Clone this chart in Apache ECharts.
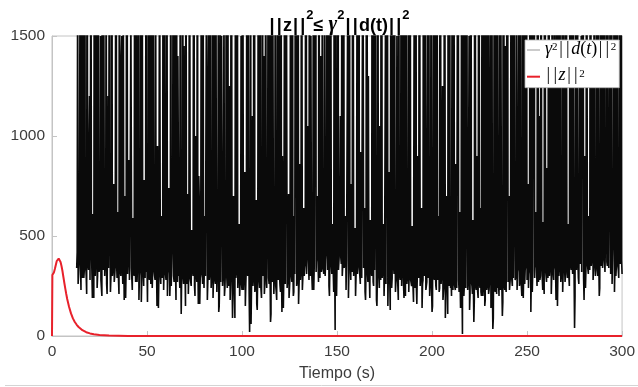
<!DOCTYPE html>
<html>
<head>
<meta charset="utf-8">
<script src="https://cdn.jsdelivr.net/npm/echarts@6/dist/echarts.min.js"></script>
<style>html,body{margin:0;padding:0;background:#fff}#c{width:638px;height:387px}</style>
</head>
<body>
<div id="c"></div>
<script>
// x ticks / y ticks
const xTicks = [0, 50, 100, 150, 200, 250, 300];
const yTicks = [0, 500, 1000, 1500];

// ||z||^2 (red)
const redTimes  = [0, 0.2, 1, 1.5, 2, 2.5, 3, 3.5, 4, 4.5, 5, 5.5, 6, 6.5, 7, 7.5, 8, 9, 10, 11, 12, 13, 14, 15, 16, 18, 20, 22, 25, 30, 40, 300];
const redValues = [0, 305, 318, 335, 355, 375, 385, 387, 382, 370, 350, 325, 295, 265, 237, 210, 185, 145, 113, 88, 70, 56, 45, 36, 29, 19, 13, 9, 5, 2, 0.5, 0];

// gamma^2 ||d(t)||^2 (black): samples at t = 13 + 0.5*i  (blackValuesA)
// and at t = 13.25 + 0.5*i (blackValuesB)
const blackStart = 13;
const blackStep = 0.5;
const blackValuesA = [
340,1900,310,720,360,2800,290,1600,330,540,300,3100,350,980,280,2200,320,610,190,1750,
360,2500,300,830,340,1500,270,3600,330,680,310,2100,210,1200,350,560,290,2900,330,760,
300,1850,360,620,280,3300,320,1400,350,2000,180,700,330,2600,300,880,340,1650,290,590,
320,2400,270,1100,350,3000,300,650,170,1900,330,780,290,2700,340,520,310,1550,260,3800,
330,690,300,2300,350,950,140,1700,320,600,290,3200,340,1300,280,2050,310,740,200,2650,
350,580,300,1800,330,3500,270,860,320,2200,110,640,300,1450,340,2900,260,710,310,1950,
280,530,330,2500,250,1000,300,3100,160,680,290,1700,320,2300,240,600,300,1350,270,2800,
310,760,230,2100,290,3400,260,570,320,1600,150,2600,280,900,300,1900,240,640,290,3000,
250,1250,300,2200,90,700,270,1750,320,2900,240,560,280,1500,230,3300,290,820,260,2000,
300,620,20,2400,250,1100,290,3600,240,680,130,1850,280,2700,230,590,300,1400,260,2100,
240,780,290,3000,70,1650,270,560,300,2300,220,950,280,1800,250,3200,120,640,300,2500,
260,1300,290,710,240,2000,310,3400,200,600,300,1550,270,2800,150,860,320,1900,290,640,
340,2600,310,1050,360,3100,300,580,230,1750,350,2200,320,700,370,3500,290,1400,340,620,
310,2300,380,880,330,1650,200,2900,360,560,320,2000,30,1200,370,3300,340,690,390,1800,
350,2500,330,600,380,1450,190,3000,360,760,320,2150,350,540,300,1700,370,3600,330,920,
290,2000,340,640,180,2700,320,1300,300,580,350,3200,270,1850,330,700,150,2400,310,1050,
280,3000,330,560,300,1600,260,2300,320,820,130,1950,290,3400,310,620,270,1500,330,2600,
300,740,250,2100,310,3100,200,680,290,1800,320,2500,270,550,300,1350,240,2900,160,900,
290,2200,310,640,260,3300,300,1150,230,1700,290,580,270,2600,120,780,300,2000,250,3500,
280,600,240,1900,300,1250,220,2800,90,700,270,2300,250,560,290,1650,230,3100,260,860,
240,2400,280,620,140,1800,10,2000,260,3000,230,690,270,1500,210,2500,250,580,70,3300,
250,900,220,2100,260,640,200,1600,240,2800,180,720,250,3500,230,1300,140,2200,35,600,
240,2700,210,1050,260,1900,230,560,100,3100,250,1450,220,2400,270,700,240,1700,280,3200,
300,640,270,2200,320,1200,250,2900,290,580,190,1800,330,3400,280,760,310,2000,120,1550,
330,2600,290,620,340,3000,270,1100,300,1900,350,570,210,2500,320,840,290,3600,340,1400,
310,600,280,2300,330,1650,150,2800,350,680,300,2100,320,1250,270,3100,340,560,300,1800,
350,2700,310,740,40,1950,330,3300,290,620,360,1500,320,2400,180,900,340,2000,370,600,
330,3000,380,1300,340,2200,300,580,360,2700,200,760,350,1750,390,3400,320,640,370,2300,
340,1100,310,2900,380,620,220,1900,350,3200,330,680,360,2500,310
];
const blackValuesB = [
420,260,380,1900,230,310,470,290,2600,350,210,400,330,1200,280,440,190,360,2200,300,
390,240,3100,320,450,280,200,370,1700,300,410,260,520,340,2400,220,380,300,650,270,
350,2800,290,430,210,370,300,1500,260,400,340,190,2300,310,460,280,350,900,230,380,
300,420,1800,270,360,180,330,2700,290,410,250,350,600,320,170,3400,280,390,310,240,
2000,330,280,440,150,370,300,1600,260,350,410,230,2900,310,380,200,340,700,290,250,
360,2500,270,420,180,330,1400,300,240,390,310,3200,260,370,150,320,440,210,1900,290,
250,380,300,2200,200,340,270,410,800,160,310,2600,260,360,230,300,1700,180,350,280,
3000,240,330,190,390,280,2100,220,350,120,300,270,1500,250,380,200,330,2800,240,300,
260,180,2400,310,220,350,90,290,1800,240,370,200,320,260,3300,230,280,150,340,600,
2000,210,320,60,290,250,2700,220,360,160,300,1300,240,280,190,3100,330,210,270,300,
230,2200,260,320,110,290,1600,210,340,250,180,3000,270,300,220,360,900,140,310,260,
2500,240,330,190,300,1700,270,350,220,310,3300,250,290,160,340,280,2100,230,380,300,
360,2700,320,410,280,370,1500,300,390,230,350,3200,330,400,270,360,700,320,2000,340,
380,300,420,2400,340,250,370,1800,310,400,220,350,3000,200,390,330,420,1100,360,300,
2600,340,390,230,370,1900,320,400,280,360,3300,300,350,200,380,310,2200,340,260,390,
300,1700,350,220,320,2900,270,340,190,360,300,1400,250,330,2300,180,310,350,240,620,
3100,290,340,200,310,260,2000,150,330,280,1600,240,300,350,2700,220,290,320,180,340,
280,2400,240,320,190,300,3300,260,330,220,1800,280,250,310,170,2100,290,240,320,700,
2600,250,300,140,280,330,1900,230,270,310,3000,200,290,240,150,2200,280,320,230,1500,
270,220,3400,260,300,180,250,2000,230,290,110,280,2700,240,200,310,1600,260,230,300,
250,2900,220,280,160,260,1500,200,290,240,3100,230,260,130,2300,270,210,250,180,2000,
230,270,190,2600,240,220,1700,200,260,150,3200,230,250,210,280,1900,190,240,90,2400,
220,260,3000,240,200,280,1600,250,170,2300,230,270,210,2800,260,230,300,1400,250,290,
2700,280,310,230,340,1900,270,300,200,3300,320,260,350,2200,290,240,330,1500,310,220,
340,3000,300,360,250,2400,320,280,1700,350,230,310,3400,330,270,360,2000,300,340,210,
2800,320,290,350,180,1600,330,300,3100,270,360,220,2300,340,310,1900,290,350,250,3500,
330,360,1800,300,200,2600,340,380,260,1400,350,320,3000,290,370,240,2100,360,310,380,
2500,350,390,280,1700,370,330,3200,300,380,240,2000,360,340,1500,390,310,2800,350,400,
330,2300,370,260,380,1800,340,300,3100,360,290,2000,350,380
];

const blackData = [];
blackValuesA.forEach((v, i) => {
  blackData.push([blackStart + i * blackStep, v]);
  if (i < blackValuesB.length) blackData.push([blackStart + i * blackStep + blackStep / 2, blackValuesB[i]]);
});
const redData = redTimes.map((t, i) => [t, redValues[i]]);

const chart = echarts.init(document.getElementById('c'), null, {renderer: 'canvas'});
const axisGray = '#c4c4c4';
const labelColor = '#3c3c3c';
const sans = 'Liberation Sans, Arial, sans-serif';
const serif = 'Liberation Serif, DejaVu Serif, serif';

chart.setOption({
  animation: false,
  backgroundColor: '#fff',
  title: {
    text: '{bar||}{bar||}{b|z}{bar||}{bar||}{sup|2}{r|≤ }{g|γ}{sup|2}{bar||}{bar||}{b|d(t)}{bar||}{bar||}{sup|2}',
    left: 339,
    textAlign: 'center',
    top: 15,
    padding: 0,
    textStyle: {
      rich: {
        b:   {fontFamily: sans, fontWeight: 'bold', fontSize: 18, lineHeight: 20, color: '#000', verticalAlign: 'bottom'},
        bar: {fontFamily: sans, fontWeight: 'bold', fontSize: 18, lineHeight: 20, color: '#000', verticalAlign: 'bottom', padding: [0, 1.1, 0, 1.1]},
        sup: {fontFamily: sans, fontWeight: 'bold', fontSize: 13, lineHeight: 14, color: '#000', verticalAlign: 'bottom', padding: [0, 0, 13, 0]},
        r:   {fontFamily: sans, fontSize: 18, lineHeight: 20, color: '#000', verticalAlign: 'bottom'},
        g:   {fontFamily: serif, fontStyle: 'italic', fontSize: 21, lineHeight: 20, color: '#000', verticalAlign: 'bottom'}
      }
    }
  },
  legend: {
    left: 525,
    top: 40,
    orient: 'vertical',
    backgroundColor: '#fff',
    borderColor: '#b0b0b0',
    borderWidth: 0.8,
    borderRadius: 0,
    padding: [0, 3, 3, 1],
    itemGap: 8.7,
    itemWidth: 13,
    itemHeight: 10,
    itemStyle: {opacity: 0},
    data: [
      {name: 'g2d', lineStyle: {color: '#6a6a6a', width: 0.7}},
      {name: 'z2', lineStyle: {color: '#e8212b', width: 2}}
    ],
    formatter: function (name) {
      if (name === 'g2d') return '{g|γ}{s|2}{bar||}{bar||}{i|d}{n|(}{i|t}{n|)}{bar||}{bar||}{s|2}';
      return '{bar||}{bar||}{i|z}{bar||}{bar||}{s|2}';
    },
    textStyle: {
      rich: {
        g:   {fontFamily: serif, fontStyle: 'italic', fontSize: 18, lineHeight: 16, color: '#000', verticalAlign: 'bottom'},
        i:   {fontFamily: serif, fontStyle: 'italic', fontSize: 18, lineHeight: 16, color: '#000', verticalAlign: 'bottom'},
        n:   {fontFamily: serif, fontSize: 18, lineHeight: 16, color: '#000', verticalAlign: 'bottom'},
        bar: {fontFamily: serif, fontSize: 18, lineHeight: 16, color: '#000', verticalAlign: 'bottom', padding: [0, 1.6, 0, 1.6]},
        s:   {fontFamily: serif, fontSize: 11, lineHeight: 10, color: '#000', verticalAlign: 'bottom', padding: [0, 0, 5, 0]}
      }
    }
  },
  grid: {
    left: 52, right: 15, top: 36, bottom: 50,
    show: true, borderColor: axisGray, borderWidth: 1, backgroundColor: 'transparent'
  },
  xAxis: {
    type: 'value',
    min: xTicks[0], max: xTicks[xTicks.length - 1], interval: 50,
    name: 'Tiempo (s)',
    nameLocation: 'middle',
    nameGap: 30,
    nameTextStyle: {fontFamily: sans, fontSize: 16, color: labelColor},
    axisLine: {show: true, lineStyle: {color: axisGray}},
    axisTick: {show: true, inside: true, length: 5, lineStyle: {color: axisGray}},
    axisLabel: {fontFamily: sans, fontSize: 15.5, color: labelColor, margin: 8, formatter: v => String(v)},
    splitLine: {show: false}
  },
  yAxis: {
    type: 'value',
    min: yTicks[0], max: yTicks[yTicks.length - 1], interval: 500,
    axisLine: {show: true, lineStyle: {color: axisGray}},
    axisTick: {show: true, inside: true, length: 5, lineStyle: {color: axisGray}},
    axisLabel: {fontFamily: sans, fontSize: 15.5, color: labelColor, margin: 7, formatter: v => String(v)},
    splitLine: {show: false}
  },
  series: [
    {
      name: 'g2d',
      type: 'line',
      data: blackData,
      symbol: 'none',
      clip: true,
      sampling: 'none',
      lineStyle: {color: '#0a0a0a', width: 1.6, join: 'miter', cap: 'butt'},
      itemStyle: {color: '#000'},
      z: 2
    },
    {
      name: 'z2',
      type: 'line',
      data: redData,
      symbol: 'none',
      clip: true,
      lineStyle: {color: '#e8212b', width: 2},
      itemStyle: {color: '#e8212b'},
      z: 3
    }
  ],
  graphic: [{
    type: 'line',
    shape: {x1: 5, y1: 385.5, x2: 638, y2: 385.5},
    style: {stroke: '#d4d4d4', lineWidth: 1},
    silent: true
  }]
});
</script>
</body>
</html>
